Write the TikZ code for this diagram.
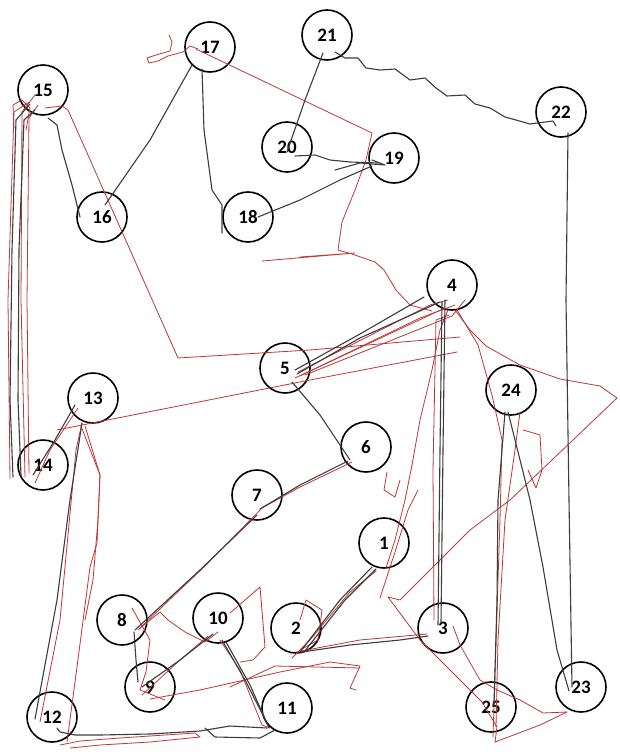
\documentclass[tikz,border=0pt]{standalone}
\usepackage{fontspec}
\setmainfont{Carlito}
\usetikzlibrary{calc}
\definecolor{trace}{RGB}{60,60,60}
\definecolor{redtrace}{RGB}{190,55,55}
\tikzset{
  num/.style={circle,draw=black,line width=1.6pt,minimum size=50pt,inner sep=0pt,
              font=\fontsize{19}{21}\selectfont\bfseries},
  blk/.style={draw=trace,line width=1.1pt,line join=round,line cap=round},
  rd/.style={draw=redtrace,line width=0.8pt,line join=round,line cap=round},
}
\begin{document}
\begin{tikzpicture}[x=1pt,y=-1pt]
\useasboundingbox (0,0) rectangle (620,755);
\fill[white] (0,0) rectangle (620,755);

% numbered targets
\node[num] (n1)  at (384,543) {1};
\node[num] (n2)  at (296,628) {2};
\node[num] (n3)  at (443,628) {3};
\node[num] (n4)  at (452,285) {4};
\node[num] (n5)  at (285,368) {5};
\node[num] (n6)  at (366,447) {6};
\node[num] (n7)  at (257,495) {7};
\node[num] (n8)  at (122,620) {8};
\node[num] (n9)  at (150,687) {9};
\node[num] (n10) at (218,618) {10};
\node[num] (n11) at (287,708) {11};
\node[num] (n12) at (52,717)  {12};
\node[num] (n13) at (93,398)  {13};
\node[num] (n14) at (43,465)  {14};
\node[num] (n15) at (43,90)   {15};
\node[num] (n16) at (102,217) {16};
\node[num] (n17) at (210,47)  {17};
\node[num] (n18) at (248,217) {18};
\node[num] (n19) at (394,158) {19};
\node[num] (n20) at (287,147) {20};
\node[num] (n21) at (327,35)  {21};
\node[num] (n22) at (561,112) {22};
\node[num] (n23) at (581,687) {23};
\node[num] (n24) at (511,390) {24};
\node[num] (n25) at (491,707) {25};

% ---------- red pen strokes ----------
\begin{scope}[rd]
% 14 <-> 15 column
\draw ($(n14)+(-18,12)$) -- (21,300) -- (22,112) -- ($(n15)+(-8,5)$);
\draw ($(n14)+(-33,14)$) -- (8,300) -- (14,112) -- ($(n15)+(-14,12)$);
\draw ($(n14)+(-14,8)$) -- (27,300) -- (29,118) -- ($(n15)+(-5,15)$);
\draw (14,128) -- (13,105) -- (22,100) -- (30,108) -- (26,130);
% 15 -> long diagonal -> 5 -> 4
\draw ($(n15)+(2,18)$) -- (62,106) -- (68,110) -- (178,358) -- (310,350) -- (460,337);
% squiggle by 17
\draw ($(n17)+(-12,2)$) -- (190,46) -- (183,52) -- (168,56) -- (158,61) -- (149,63)
      -- (147,58) -- (156,55) -- (170,51) -- (172,42) -- (169,35);
% 17 -> 19 -> down to 4
\draw ($(n17)+(-14,2)$) -- (372,133) -- (366,160) -- (355,190) -- (342,222)
      -- (338,250) -- (352,254) -- (375,262) -- (384,270) -- (396,290)
      -- (410,305) -- ($(n4)+(-20,26)$);
\draw (262,261) -- (355,253) -- (300,257);
% 14 -> 5 -> 4
\draw ($(n14)+(14,-35)$) -- (310,380) -- (457,352);
% 5 <-> 4 bundle
\draw ($(n5)+(10,10)$) -- (445,308);
\draw ($(n5)+(13,4)$) -- (430,305) -- (448,300);
\draw ($(n5)+(20,7)$) -- (452,316) -- (465,300);
\draw (300,376) -- (420,318) -- (455,305);
% 4 out to the right and back down to 3 and 25
\draw ($(n4)+(3,25)$) -- (470,330) -- (486,346) -- (520,365) -- (560,379)
      -- (600,386) -- (617,398) -- (510,500) -- (470,530) -- (440,560)
      -- (400,600) -- (388,597) -- (420,640) -- (452,672) -- (482,702)
      -- (497,727) -- (495,742) -- (540,725) -- (567,712);
% 4 down through 24 to 25
\draw ($(n4)+(5,25)$) -- (478,345) -- (492,395) -- (502,440) -- (500,520)
      -- (497,610) -- ($(n25)+(2,30)$);
\draw ($(n24)+(9,22)$) -- (515,450) -- (505,520) -- (498,640) -- ($(n25)+(5,20)$);
\draw ($(n24)+(12,40)$) -- (530,432) -- (540,435) -- (542,470) -- (536,488) -- (528,470);
% 3 -> 25 -> 23
\draw ($(n3)+(10,-2)$) -- (460,645) -- (480,680) -- (497,690) -- (520,700)
      -- (543,713) -- (567,712);
% 1 up to 4
\draw ($(n1)+(2,25)$) -- (395,540) -- (405,500) -- (412,465) -- (420,420)
      -- (432,370) -- (440,330) -- ($(n4)+(-4,25)$);
\draw (380,598) -- (395,552) -- (408,510) -- (418,490);
\draw ($(n3)+(-9,-8)$) -- (433,470) -- (436,320) -- ($(n4)+(-3,30)$);
\draw (387,472) -- (384,490) -- (395,497) -- (400,480);
% 1 <-> 2
\draw ($(n1)+(-8,28)$) -- (350,592) -- (310,640) -- ($(n2)+(-4,30)$);
\draw ($(n2)+(0,24)$) -- (360,640) -- ($(n3)+(-16,6)$);
\draw (300,650) -- (318,640) -- (322,610) -- (306,600) -- (300,620);
% 6 -> 7 -> 8
\draw ($(n6)+(-14,15)$) -- (300,487) -- (262,508) -- (205,566) -- (140,628);
% around 8, 9, 10
\draw ($(n8)+(16,10)$) -- (160,612) -- (168,620) -- (185,632) -- (205,642) -- (218,632);
\draw ($(n8)+(10,-12)$) -- (150,640) -- (146,672) -- (140,690) -- (165,700);
\draw ($(n10)+(12,-5)$) -- (260,587) -- (265,647) -- (253,660) -- (240,662);
\draw ($(n9)+(-8,8)$) -- (180,660) -- ($(n10)+(-10,18)$);
\draw ($(n10)+(2,22)$) -- (240,670) -- (262,725) -- (270,728);
% 9 -> 11 band
\draw ($(n9)+(0,12)$) -- (200,690) -- (280,672) -- (330,662) -- (360,666) -- (350,688) -- (356,690);
\draw (230,687) -- (275,666) -- (360,668);
% 12 <-> 13
\draw ($(n12)+(-12,5)$) -- (60,620) -- (76,450) -- ($(n13)+(-11,25)$);
\draw ($(n12)+(15,25)$) -- (77,667) -- (90,567) -- (97,543) -- (100,475) -- ($(n13)+(-8,28)$);
\draw ($(n13)+(-12,28)$) -- (100,475) -- (98,520) -- (93,580) -- (85,620);
% 13 -> 14
\draw ($(n13)+(-15,10)$) -- (50,450) -- ($(n14)+(-8,18)$);
% bottom band 12 -> 11
\draw ($(n12)+(8,28)$) -- (80,741) -- (120,738) -- (195,733) -- (200,737) -- (150,742) -- (100,745) -- (70,748);
\end{scope}

% ---------- black pen strokes, 1 -> 25 ----------
\begin{scope}[blk]
\draw ($(n1)+(-12,24)$) -- (340,600) -- ($(n2)+(4,24)$);
\draw ($(n1)+(-8,26)$) -- (345,600) -- ($(n2)+(8,24)$);
\draw ($(n2)+(6,24)$) -- (350,645) -- (400,640) -- ($(n3)+(-15,8)$);
\draw ($(n3)+(-2,-5)$) -- (443,450) -- ($(n4)+(-7,15)$);
\draw ($(n3)+(-5,-3)$) -- (440,450) -- ($(n4)+(-10,17)$);
\draw ($(n4)+(-12,17)$) -- (360,338) -- ($(n5)+(12,6)$);
\draw ($(n4)+(-28,12)$) -- (360,334) -- ($(n5)+(10,2)$);
\draw ($(n5)+(7,14)$) -- (320,415) -- ($(n6)+(-16,13)$);
\draw ($(n6)+(-18,14)$) -- (300,485) -- ($(n7)+(3,14)$);
\draw ($(n7)+(0,20)$) -- (200,570) -- ($(n8)+(13,10)$);
\draw ($(n8)+(12,12)$) -- (136,660) -- ($(n9)+(-12,-5)$);
\draw ($(n9)+(-8,0)$) -- (180,660) -- ($(n10)+(-5,16)$);
\draw ($(n10)+(4,22)$) -- (245,680) -- ($(n11)+(-20,15)$);
\draw ($(n10)+(8,24)$) -- (250,685) -- ($(n11)+(-18,20)$);
\draw ($(n11)+(-20,20)$) -- (230,726) -- (200,731) -- (150,734) -- (100,735)
      -- (75,735) -- ($(n12)+(8,15)$) -- ($(n12)+(5,11)$);
\draw (205,728) -- (215,737) -- (260,738) -- (275,730);
\draw ($(n12)+(-17,2)$) -- (57,600) -- (70,500) -- ($(n13)+(-11,25)$);
\draw ($(n13)+(-18,7)$) -- (55,440) -- ($(n14)+(-10,10)$);
\draw ($(n14)+(-30,12)$) -- (10,400) -- (12,250) -- (16,120) -- ($(n15)+(-13,14)$);
\draw ($(n14)+(-22,10)$) -- (18,400) -- (19,250) -- (24,120) -- ($(n15)+(-8,20)$);
\draw ($(n15)+(5,28)$) -- (57,125) -- (62,150) -- (72,185) -- ($(n16)+(-22,0)$);
\draw ($(n16)+(3,-12)$) -- (150,140) -- ($(n17)+(-18,18)$);
\draw ($(n17)+(-8,22)$) -- (204,130) -- (212,190) -- (222,205) -- ($(n18)+(-26,16)$);
\draw ($(n18)+(10,0)$) -- (300,200) -- (340,180) -- ($(n19)+(-22,8)$);
\draw ($(n19)+(-16,5)$) -- (350,162) -- (330,160) -- (315,155) -- ($(n20)+(8,9)$);
\draw (335,170) -- (360,163) -- (385,165) -- (372,160);
\draw ($(n20)+(0,5)$) -- (305,100) -- ($(n21)+(-4,18)$);
\draw ($(n21)+(8,17)$) -- (345,58) -- (358,58) -- (366,68) -- (380,70) -- (395,69)
      -- (410,80) -- (425,78) -- (436,88) -- (447,96) -- (465,95) -- (475,104)
      -- (490,108) -- (505,117) -- (516,120) -- (530,124) -- (545,122)
      -- ($(n22)+(-8,9)$) -- ($(n22)+(-5,14)$);
\draw ($(n22)+(7,21)$) -- (566,300) -- (569,500) -- ($(n23)+(-9,0)$);
\draw ($(n23)+(-12,4)$) -- (557,650) -- (543,567) -- (530,500) -- (515,440) -- ($(n24)+(-3,22)$);
\draw ($(n24)+(-6,22)$) -- (498,500) -- (497,600) -- ($(n25)+(3,-2)$);
\end{scope}
\end{tikzpicture}
\end{document}
